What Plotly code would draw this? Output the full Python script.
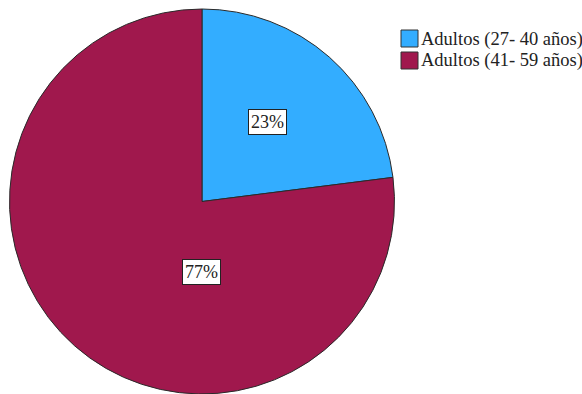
import plotly.graph_objects as go

labels = ["Adultos (27- 40 años)", "Adultos (41- 59 años)"]
values = [23, 77]
colors = ["#33ADFF", "#A0184D"]
label_text = ["23%", "77%"]
# label box centres in pixels
label_px = [(267, 122), (201, 272)]

W, H = 582, 394
FONT = "Liberation Serif, Times New Roman, Times, serif"

fig = go.Figure(go.Pie(
    labels=labels,
    values=values,
    sort=False,
    direction="clockwise",
    rotation=0,
    marker=dict(colors=colors, line=dict(color="#2a2a2a", width=1)),
    textinfo="none",
    hoverinfo="label+percent",
    showlegend=False,
    domain=dict(x=[9 / W, 395 / W], y=[1 - 394 / H, 1 - 9 / H]),
))

for t, (px, py) in zip(label_text, label_px):
    fig.add_annotation(
        x=px / W, y=1 - py / H, xref="paper", yref="paper",
        xanchor="center", yanchor="middle",
        text=t, showarrow=False,
        font=dict(family=FONT, size=18, color="#222"),
        bgcolor="white", bordercolor="#222", borderwidth=1, borderpad=2,
    )

# legend (drawn manually to match box size / spacing)
leg_x, leg_y0, leg_dy, box = 401, 30, 22, 17
for i, (lab, col) in enumerate(zip(labels, colors)):
    y0 = leg_y0 + i * leg_dy
    fig.add_shape(
        type="rect", xref="paper", yref="paper",
        x0=leg_x / W, x1=(leg_x + box) / W,
        y0=1 - y0 / H, y1=1 - (y0 + box) / H,
        fillcolor=col, line=dict(color="#333", width=1),
    )
    fig.add_annotation(
        x=(leg_x + box + 1) / W, y=1 - (y0 + box / 2 + 0.5) / H,
        xref="paper", yref="paper", xanchor="left", yanchor="middle",
        text=lab, showarrow=False,
        font=dict(family=FONT, size=18.5, color="#222"),
    )

fig.update_layout(
    width=W, height=H,
    margin=dict(l=0, r=0, t=0, b=0),
    paper_bgcolor="white",
    plot_bgcolor="white",
    showlegend=False,
)

fig.write_html("out.html")
